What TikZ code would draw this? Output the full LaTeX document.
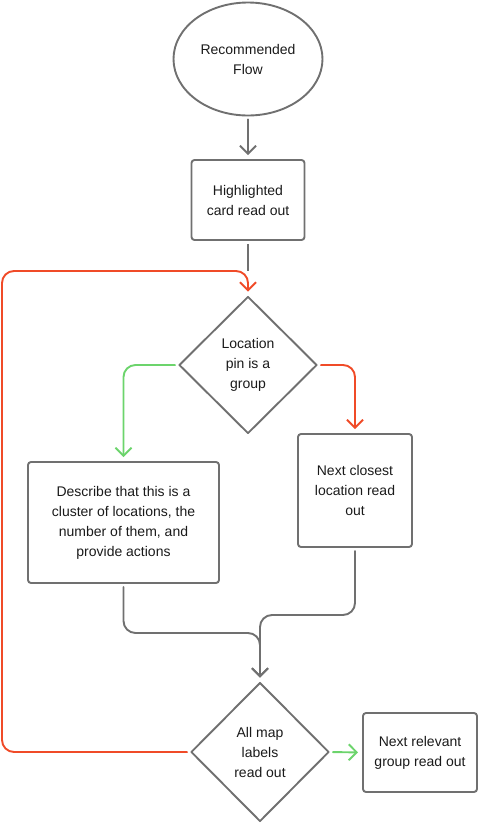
\documentclass[tikz,border=0pt]{standalone}
\usepackage{fontspec}
\setmainfont{Liberation Sans}
\usetikzlibrary{shapes.geometric,arrows.meta}
\definecolor{lgray}{HTML}{707070}
\definecolor{lred}{HTML}{F04B28}
\definecolor{lgreen}{HTML}{6CD46C}
\definecolor{ltext}{HTML}{1A1A1A}
\tikzset{
  base/.style={draw=lgray, line width=1.9pt, text=ltext, align=center, inner sep=0pt,
    font=\fontsize{14}{20}\selectfont},
  boxnode/.style={base, rectangle, rounded corners=3pt},
  dnode/.style={base, diamond, line join=round},
  enode/.style={base, ellipse},
  conn/.style={line width=1.9pt, line cap=round, rounded corners=12pt,
    -{Straight Barb[length=8pt,width=16pt,line width=1.9pt]},
    shorten <=3pt, shorten >=4pt},
}
\begin{document}
\begin{tikzpicture}[x=1pt,y=-1pt]
\useasboundingbox (0,0) rectangle (478,823);
\node[enode, minimum width=149pt, minimum height=113pt] (start) at (248,59) {Recommended\\Flow};
\node[boxnode, minimum width=113pt, minimum height=80pt] (card) at (248,200) {Highlighted\\card read out};
\node[dnode, minimum width=138pt, minimum height=137pt] (d1) at (248,365) {Location\\pin is a\\group};
\node[boxnode, minimum width=191pt, minimum height=121pt] (lbox) at (123.5,522.5) {Describe that this is a\\cluster of locations, the\\number of them, and\\provide actions};
\node[boxnode, minimum width=114pt, minimum height=113pt] (rbox) at (355,490.5) {Next closest\\location read\\out};
\node[dnode, minimum width=138pt, minimum height=139pt] (d2) at (260,752) {All map\\labels\\read out};
\node[boxnode, minimum width=114pt, minimum height=79pt] (gbox) at (420,752.5) {Next relevant\\group read out};

\coordinate (j1) at (248,271);
\coordinate (redtop) at (2,271);
\coordinate (jl) at (260,633);
\coordinate (jr) at (260,615);

\draw[conn, lgray] (start) -- (card);
\draw[line width=1.9pt, lgray, shorten <=3pt] (card.south) -- (j1);
\draw[conn, lred] (d2.west) -| (redtop) -| (d1.north);
\draw[conn, lgreen] (d1.west) -| (lbox.north);
\draw[conn, lred] (d1.east) -| (rbox.north);
\draw[conn, lgray] (lbox.south) |- (jl) -- (d2.north);
\draw[conn, lgray] (rbox.south) |- (jr) -- (d2.north);
\draw[conn, lgreen] (d2.east) -- (gbox.west);
\end{tikzpicture}
\end{document}
